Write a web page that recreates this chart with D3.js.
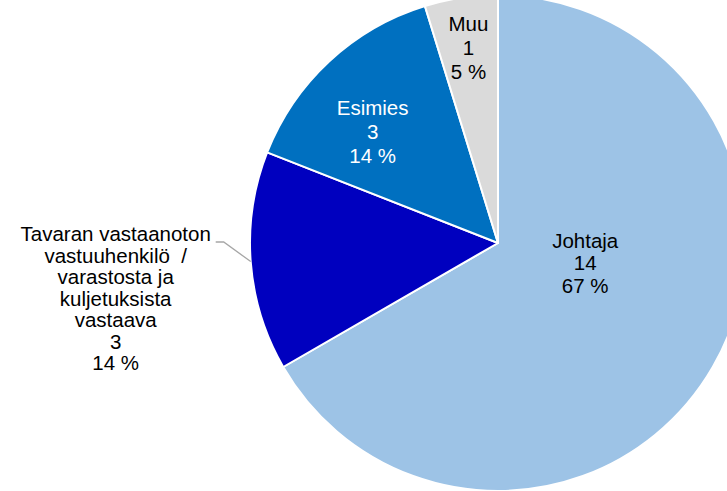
<!DOCTYPE html>
<html><head><meta charset="utf-8">
<script src="https://cdn.jsdelivr.net/npm/d3@7"></script>
<style>
html,body{margin:0;padding:0;background:#fff;}
svg{display:block;font-family:"Liberation Sans",Arial,sans-serif;}
text{white-space:pre;}
</style></head>
<body>
<svg id="chart" width="727" height="491"></svg>
<script>
const categories = ["Johtaja", "Tavaran vastaanoton vastuuhenkilö / varastosta ja kuljetuksista vastaava", "Esimies", "Muu"];
const labelLines = [["Johtaja"], ["Tavaran vastaanoton", "vastuuhenkilö  /", "varastosta ja", "kuljetuksista", "vastaava"], ["Esimies"], ["Muu"]];
const values = [14, 3, 3, 1];
const percents = ["67 %", "14 %", "14 %", "5 %"];
const colors = ["#9DC3E6", "#0000BF", "#0070C0", "#DADADA"];
const textColors = ["#000", "#000", "#fff", "#000"];

const svg = d3.select("#chart");
const cx = 498, cy = 243, r = 248;
const g = svg.append("g").attr("transform", `translate(${cx},${cy})`);

const pie = d3.pie().sort(null).value(d => d)(values);
const arc = d3.arc().innerRadius(0).outerRadius(r);

g.selectAll("path.slice").data(pie).enter().append("path")
  .attr("class", "slice")
  .attr("d", arc)
  .attr("fill", (d, i) => colors[i])
  .attr("stroke", "#fff")
  .attr("stroke-width", 2)
  .attr("stroke-linejoin", "round");

const fs = 20.5;
// label placement: radius factor and pixel nudges
const labelR = [0.42, 1.0, 0.69, 0.80];
const nudge = [[-3, -32], [0, 0], [-9, 14], [0, 1]];
const lineHs = [22.5, 21.5, 24, 24];

pie.forEach((d, i) => {
  const lines = labelLines[i].concat([String(values[i]), percents[i]]);
  let x, y;
  if (i === 1) {
    const a = (d.startAngle + d.endAngle) / 2;
    const px = Math.sin(a) * r, py = -Math.cos(a) * r;
    const ex = px - 27, ey = -1;
    const lx = ex - 8;
    g.append("polyline")
      .attr("points", `${px},${py} ${ex},${ey} ${lx},${ey}`)
      .attr("fill", "none").attr("stroke", "#A6A6A6").attr("stroke-width", 1.3);
    x = lx - 100; y = ey - 8 + 7;
    const t = g.append("text").attr("text-anchor", "middle").attr("fill", textColors[i])
      .attr("font-size", fs).attr("xml:space", "preserve");
    lines.forEach((s, k) => t.append("tspan").attr("x", x).attr("y", y + k * lineHs[i]).text(s));
    return;
  }
  const c = d3.arc().innerRadius(r * labelR[i]).outerRadius(r * labelR[i]).centroid(d);
  x = c[0] + nudge[i][0]; y = c[1] + nudge[i][1];
  const lh = lineHs[i];
  const y0 = y - (lines.length - 1) * lh / 2 + 7;
  const t = g.append("text").attr("text-anchor", "middle").attr("fill", textColors[i])
    .attr("font-size", fs);
  lines.forEach((s, k) => t.append("tspan").attr("x", x).attr("y", y0 + k * lh).text(s));
});
</script>
</body></html>
